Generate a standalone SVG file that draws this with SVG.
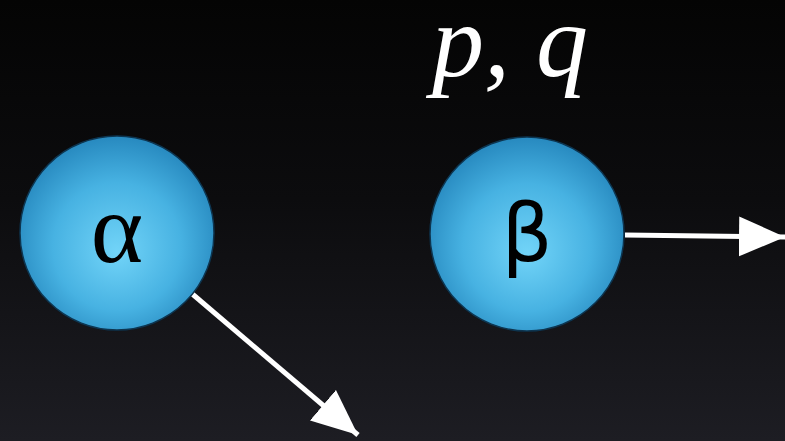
<svg xmlns="http://www.w3.org/2000/svg" width="785" height="441" viewBox="0 0 785 441">
<defs>
<linearGradient id="bg" x1="0" y1="0" x2="0" y2="1">
<stop offset="0" stop-color="#040404"/>
<stop offset="0.45" stop-color="#0c0c0e"/>
<stop offset="1" stop-color="#1d1d23"/>
</linearGradient>
<radialGradient id="ball" cx="0.5" cy="0.55" r="0.55" fx="0.5" fy="0.6">
<stop offset="0" stop-color="#72d4f8"/>
<stop offset="0.6" stop-color="#47b2e2"/>
<stop offset="1" stop-color="#2789bf"/>
</radialGradient>
<marker id="ah" markerUnits="userSpaceOnUse" markerWidth="48" markerHeight="42" refX="46" refY="21" orient="auto">
<path d="M0,1 L46,21 L0,41 Z" fill="#ffffff"/>
</marker>
<style>
.node circle{fill:url(#ball);stroke:#0d3550;stroke-width:1.5}
.lbl{fill:#000;text-anchor:middle}
.serif{font-family:'Liberation Serif','Times New Roman',serif}
.sans{font-family:'DejaVu Sans','Liberation Sans',sans-serif}
.edge{stroke:#ffffff;stroke-width:5;fill:none;marker-end:url(#ah)}
</style>
</defs>
<rect width="785" height="441" fill="url(#bg)"/>
<text class="serif" x="432" y="76" font-style="italic" font-size="104" fill="#ffffff">p, q</text>
<g id="edges">
<line class="edge" x1="190" y1="292" x2="358" y2="435"/>
<line class="edge" x1="625" y1="235" x2="785" y2="237"/>
</g>
<g id="alpha" class="node">
<circle cx="117" cy="233" r="97"/>
<text class="lbl serif" x="117" y="262" font-size="100">α</text>
</g>
<g id="beta" class="node">
<circle cx="527" cy="234" r="97"/>
<text class="lbl sans" x="527" y="261" font-size="80">β</text>
</g>
</svg>
